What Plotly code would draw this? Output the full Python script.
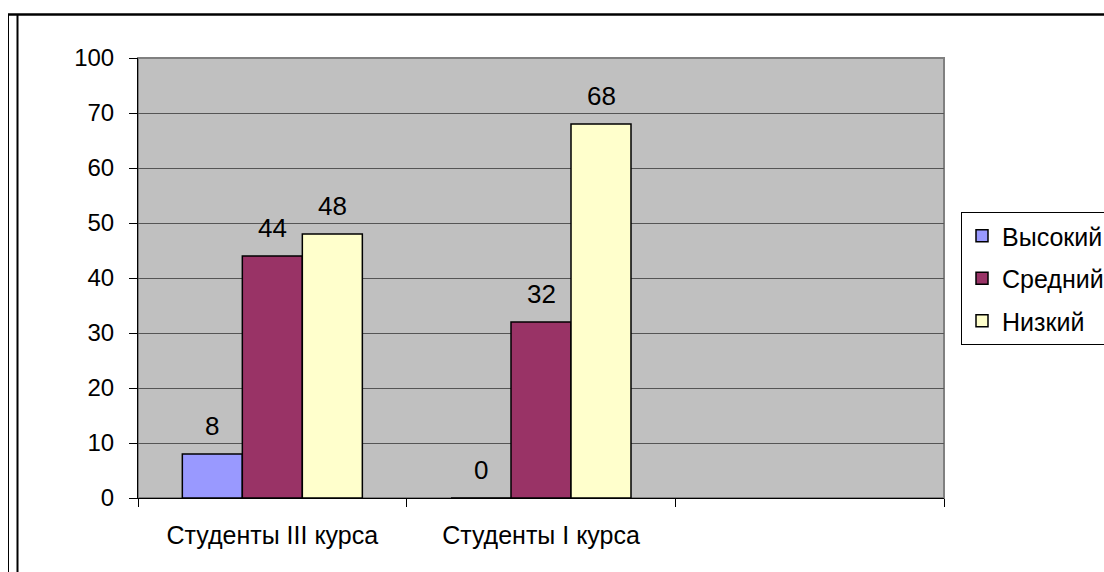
import plotly.graph_objects as go

categories = ["Студенты III курса", "Студенты I курса", " "]
series_names = ["Высокий", "Средний", "Низкий"]
high = [8, 0, None]
medium = [44, 32, None]
low = [48, 68, None]
series_values = [high, medium, low]
colors = ["#9999FF", "#993366", "#FFFFCC"]
y_tickvals = [0, 10, 20, 30, 40, 50, 60, 70, 80]
y_ticktext = ["0", "10", "20", "30", "40", "50", "60", "70", "100"]

W, H = 1104, 572
ML, MR, MT, MB = 138, 160, 58, 74
PW, PH = W - ML - MR, H - MT - MB
BARGAP = 0.33
FONT = "Liberation Sans, Arial, sans-serif"


def px_x(px):
    return (px - ML) / PW


def px_y(py):
    return (H - MB - py) / PH


fig = go.Figure()
for i, (name, vals, col) in enumerate(zip(series_names, series_values, colors)):
    fig.add_trace(go.Bar(
        x=categories, y=vals, name=name, legendgroup=name,
        marker=dict(color=col, line=dict(color="black", width=1.5)),
    ))

# data labels
w = (1 - BARGAP) / len(series_names)
annotations = []
for j, vals in enumerate(series_values):
    for i, v in enumerate(vals):
        if v is None:
            continue
        annotations.append(dict(
            x=i + (j - (len(series_names) - 1) / 2) * w, y=v, xref="x", yref="y",
            text=str(v), showarrow=False, yanchor="middle", yshift=28,
            font=dict(family=FONT, size=26, color="black"),
        ))

shapes = [
    # plot area border (gray)
    dict(type="rect", xref="paper", yref="paper", x0=0, y0=0, x1=1, y1=1,
         line=dict(color="#808080", width=2), layer="below"),
    # outer frame lines
    dict(type="line", xref="paper", yref="paper", x0=px_x(8.5), x1=px_x(8.5),
         y0=px_y(14), y1=px_y(580), line=dict(color="black", width=1)),
    dict(type="line", xref="paper", yref="paper", x0=px_x(17.5), x1=px_x(17.5),
         y0=px_y(14), y1=px_y(580), line=dict(color="black", width=2)),
    dict(type="line", xref="paper", yref="paper", x0=px_x(8), x1=px_x(1110),
         y0=px_y(14.5), y1=px_y(14.5), line=dict(color="black", width=2.5)),
]

fig.update_layout(
    width=W, height=H,
    margin=dict(l=ML, r=MR, t=MT, b=MB, pad=0, autoexpand=False),
    paper_bgcolor="white", plot_bgcolor="#C0C0C0",
    barmode="group", bargap=BARGAP, bargroupgap=0,
    font=dict(family=FONT, size=25, color="black"),
    showlegend=True,
    legend=dict(
        x=px_x(961), y=px_y(212), xanchor="left", yanchor="top",
        bgcolor="white", bordercolor="black", borderwidth=1,
        font=dict(family=FONT, size=25, color="black"),
        tracegroupgap=7, traceorder="grouped",
    ),
    annotations=annotations,
    shapes=shapes,
)
fig.update_xaxes(
    type="category", categoryorder="array", categoryarray=categories,
    range=[-0.5, 2.5], tickson="boundaries", ticks="outside", ticklen=8,
    tickcolor="black", showgrid=False, showline=True, linecolor="black",
    linewidth=1, tickfont=dict(family=FONT, size=25), ticklabelstandoff=15,
    zeroline=False,
)
fig.update_yaxes(
    range=[0, 80], tickvals=y_tickvals, ticktext=y_ticktext,
    ticks="outside", ticklen=8, tickcolor="black",
    showgrid=True, gridcolor="#555555", gridwidth=1,
    showline=True, linecolor="black", linewidth=1, zeroline=False,
    tickfont=dict(family=FONT, size=24), ticklabelstandoff=10,
)

fig.write_html("out.html")
